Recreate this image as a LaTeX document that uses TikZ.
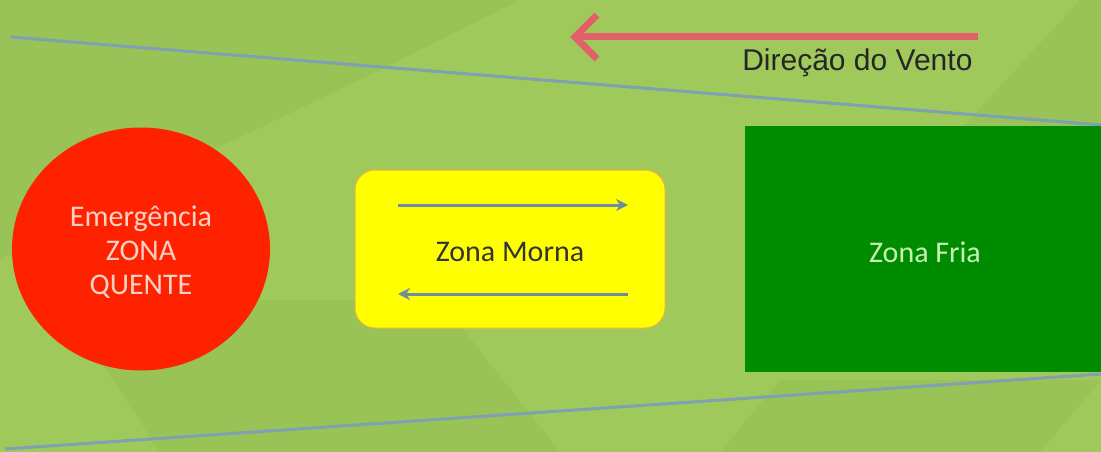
\documentclass[tikz,border=0pt]{standalone}
\usepackage{fontspec}
\setmainfont{Carlito}
\newfontfamily\arialfont{Liberation Sans}
\usetikzlibrary{arrows.meta,shapes.geometric}
\definecolor{bgA}{HTML}{9FCA5B}
\definecolor{bgB}{HTML}{99C357}
\definecolor{edgeline}{HTML}{7F9FB2}
\definecolor{windred}{HTML}{E2606A}
\definecolor{hotred}{HTML}{FF2200}
\definecolor{hottext}{HTML}{F8D2C4}
\definecolor{warmyel}{HTML}{FFFF00}
\definecolor{warmedge}{HTML}{F0B040}
\definecolor{flowgrey}{HTML}{6E8E9E}
\definecolor{coldgreen}{HTML}{008C00}
\definecolor{coldtext}{HTML}{C8F2B4}
\tikzset{
  zonetext/.style={font=\fontsize{30}{34}\selectfont, align=center},
  boundary/.style={draw=edgeline, line width=3pt},
  flow/.style={draw=flowgrey, line width=3pt, -{Stealth[length=12pt,width=12pt]}},
}
\begin{document}
\begin{tikzpicture}[x=1pt,y=-1pt]
\useasboundingbox (0,0) rectangle (1101,452);
\fill[bgA] (0,0) rectangle (1101,452);
% subtle facets
\fill[bgB] (0,0) -- (520,0) .. controls (400,60) and (300,110) .. (190,160) -- (0,260) -- cycle;
\fill[bgB] (60,300) -- (160,452) -- (560,452) -- (440,300) -- cycle;
\fill[bgB] (1080,0) -- (1101,0) -- (1101,130) -- (960,130) -- cycle;
\fill[bgB] (780,380) -- (1101,380) -- (1040,452) -- (720,452) -- cycle;
% boundary lines
\coordinate (tl) at (10,37);
\coordinate (tr) at (1101,125);
\coordinate (bl) at (5,449);
\coordinate (br) at (1101,374);
\draw[boundary] (tl) -- (tr);
\draw[boundary] (bl) -- (br);
% wind arrow
\coordinate (ws) at (978,37);
\coordinate (we) at (570,37);
\draw[windred, line width=7pt, -{Straight Barb[length=22pt,width=44pt,line width=7pt]}] (ws) -- (we);
\node[font=\arialfont\fontsize{30}{34}\selectfont, text=black!85, anchor=east] (wind) at (976,63) {Direção do Vento};
% hot zone
\node[ellipse, minimum width=258pt, minimum height=243pt, fill=hotred, draw=none, inner sep=0pt] (hot) at (141,249) {};
\node[zonetext, text=hottext] (hotlabel) at (141,252) {Emergência\\ZONA\\QUENTE};
% warm zone
\node[rectangle, rounded corners=20pt, fill=warmyel, draw=warmedge, line width=1pt, minimum width=310pt, minimum height=158pt] (warm) at (510,249) {};
\node[zonetext, text=black!80] (warmlabel) at (510,252) {Zona Morna};
\coordinate (a1) at (398,205);
\coordinate (a2) at (628,205);
\coordinate (b1) at (628,294);
\coordinate (b2) at (398,294);
\draw[flow] (a1) -- (a2);
\draw[flow] (b1) -- (b2);
% cold zone
\node[rectangle, fill=coldgreen, draw=none, minimum width=356pt, minimum height=246pt, anchor=north west, inner sep=0pt] (cold) at (745,126) {};
\node[zonetext, text=coldtext] (coldlabel) at (925,252) {Zona Fria};
\end{tikzpicture}
\end{document}
